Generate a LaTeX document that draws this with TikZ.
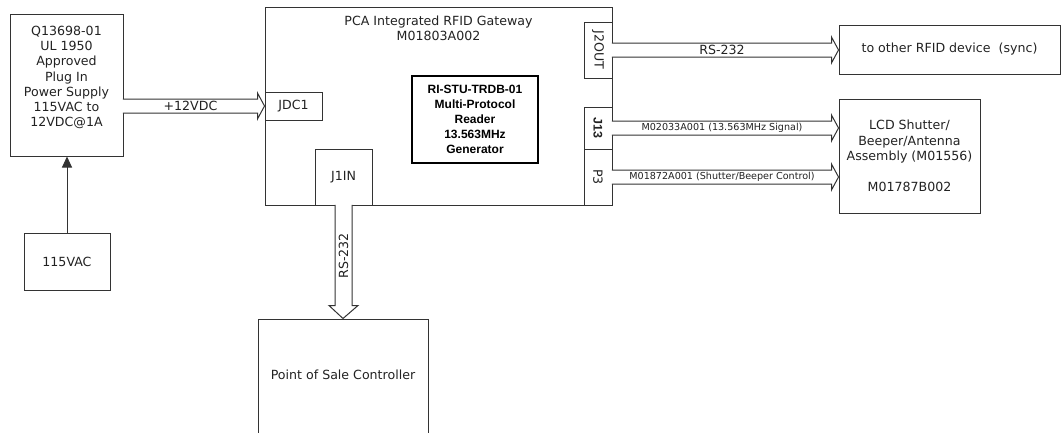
\documentclass[tikz,border=0pt]{standalone}
\usepackage{fontspec}
\setmainfont{DejaVu Sans}
\newfontfamily\arialfont{Liberation Sans}
\usetikzlibrary{calc,arrows.meta}
\definecolor{linecol}{HTML}{333333}
\definecolor{txtcol}{HTML}{222222}
\newcommand\hollowarrow[4]{%
  \draw[conn] let \p1=(#1), \p2=(#2) in
    (\x1-0.7pt,\y1+7pt) -- (\x2-7pt,\y1+7pt) -- (\x2-7pt,\y1+13pt) -- (\x2,\y1)
    -- (\x2-7pt,\y1-13pt) -- (\x2-7pt,\y1-7pt) -- (\x1-0.7pt,\y1-7pt);
  \path (#1) -- (#1 -| #2) node[midway, xshift=-3.5pt, #3] {#4};
}
\begin{document}
\begin{tikzpicture}[x=1pt,y=-1pt,
  box/.style={draw=linecol, line width=1pt, rectangle, inner sep=0pt, text=txtcol,
    font=\fontsize{12.6}{15}\selectfont, align=center},
  txt/.style={inner sep=0pt, text=txtcol, font=\fontsize{12.6}{15}\selectfont, align=center},
  small/.style={inner sep=0pt, text=txtcol, font=\fontsize{9.6}{11}\selectfont},
  conn/.style={draw=linecol, line width=1pt, fill=white, line join=miter}]
\useasboundingbox (0,0) rectangle (1061,432);
\clip (0,0) rectangle (1061,432);

% boxes
\node[box, minimum width=113pt, minimum height=142pt] (psu) at (66.5,85) {};
\node[txt, font=\fontsize{12.6}{15.2}\selectfont] (psutext) at (66.5,77.5)
  {Q13698-01\\UL 1950\\Approved\\Plug In\\Power Supply\\115VAC to\\12VDC@1A};
\node[box, minimum width=86pt, minimum height=57pt] (ac) at (67,261.5) {115VAC};

\node[box, minimum width=347pt, minimum height=198pt] (gw) at (438.5,106) {};
\node[txt] (gwtitle) at (438.5,28.5) {PCA Integrated RFID Gateway\\M01803A002};
\node[box, minimum width=57pt, minimum height=28pt] (jdc) at (293.5,106) {JDC1};
\node[box, minimum width=57pt, minimum height=56pt] (j1in) at (343.5,177) {J1IN};
\node[box, line width=1.8pt, draw=black, minimum width=126pt, minimum height=87pt,
  font=\arialfont\bfseries\fontsize{12}{15}\selectfont, text=black] (reader) at (475,119.5)
  {RI-STU-TRDB-01\\Multi-Protocol\\Reader\\13.563MHz\\Generator};
\node[box, minimum width=28pt, minimum height=56pt] (j2out) at (598,50) {};
\node[txt, rotate=-90] at (j2out.center) {J2OUT};
\node[box, minimum width=28pt, minimum height=42pt] (j13) at (598,128) {};
\node[txt, rotate=-90, font=\arialfont\bfseries\fontsize{12.5}{14}\selectfont] at (j13.center) {J13};
\node[box, minimum width=28pt, minimum height=56pt] (p3) at (598,177) {};
\node[txt, rotate=-90] at (p3.center) {P3};

\node[box, minimum width=221pt, minimum height=49pt] (rfid) at (949.5,49.5) {to other RFID device~~(sync)};
\node[box, minimum width=141pt, minimum height=114pt, font=\fontsize{12.6}{15.5}\selectfont] (lcd) at (909.5,156)
  {LCD Shutter/\\Beeper/Antenna\\Assembly (M01556)\\[15.5pt]M01787B002};
\node[box, minimum width=170pt, minimum height=130pt, anchor=north] (pos) at (343,318.5) {};
\node[txt] (postext) at (343,375) {Point of Sale Controller};

% connectors
\draw[draw=linecol, line width=1pt, -{Triangle[length=11pt,width=10pt]}] (ac.north) -- (ac.north |- psu.south);

\hollowarrow{psu.east |- jdc.west}{jdc.west}{txt}{+12VDC}
\hollowarrow{gw.east |- j2out.east}{rfid.west |- j2out.east}{txt}{RS-232}
\hollowarrow{j13.east}{lcd.west |- j13.east}{small}{M02033A001 (13.563MHz Signal)}
\hollowarrow{p3.east}{lcd.west |- p3.east}{small}{M01872A001 (Shutter/Beeper Control)}

\draw[conn] let \p1=(j1in.south), \p2=(pos.north) in
  (\x1-8.5pt,\y1+0.7pt) -- (\x1-8.5pt,\y2+13pt) -- (\x1-14.5pt,\y2+13pt) -- (\x2,\y2)
  -- (\x1+14.5pt,\y2+13pt) -- (\x1+8.5pt,\y2+13pt) -- (\x1+8.5pt,\y1+0.7pt);
\node[txt, rotate=90] (rslabel) at (343.5,256) {RS-232};
\end{tikzpicture}
\end{document}
